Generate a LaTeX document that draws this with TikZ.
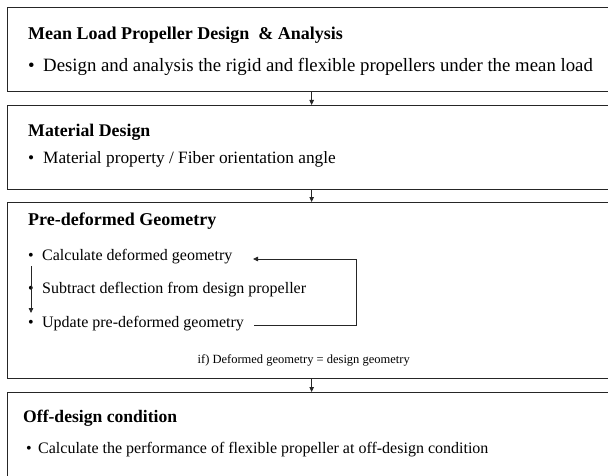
\documentclass[tikz,border=0pt]{standalone}
\usepackage{fontspec}
\setmainfont{Liberation Serif}
\usetikzlibrary{arrows.meta}
% bullet set in a fixed-width slot so the item text starts at a fixed place
\newcommand\itemdot[1]{\makebox[#1][l]{\textbullet}}
\begin{document}
\begin{tikzpicture}[x=1pt,y=-1pt,
  box/.style={draw=black!85, line width=1.3pt, anchor=north west, minimum width=608pt, inner sep=0pt},
  ttl/.style={anchor=base west, inner sep=0pt, font=\bfseries},
  itm/.style={anchor=base west, inner sep=0pt},
  note/.style={anchor=base east, inner sep=0pt, font=\fontsize{12.5}{15}\selectfont},
  link/.style={draw=black!85, line width=0.8pt, -{Triangle[length=5pt,width=4.5pt]}}]
\useasboundingbox (0,0) rectangle (608,476);
\clip (0,0) rectangle (608,476);
\fill[white] (0,0) rectangle (608,476);

% four stage boxes (right and lower edges run off the page)
\node[box, minimum height=84pt]  (b1) at (7,7)   {};
\node[box, minimum height=84pt]  (b2) at (7,105) {};
\node[box, minimum height=176pt] (b3) at (7,202) {};
\node[box, minimum height=120pt] (b4) at (7,392) {};

% stage 1
\node[ttl, font=\fontsize{18}{21}\selectfont\bfseries] (t1) at (28,40) {Mean Load Propeller Design \ \& Analysis};
\node[itm, font=\fontsize{18.8}{22}\selectfont] (i1) at (28,72) {\itemdot{15pt}Design and analysis the rigid and flexible propellers under the mean load};

% stage 2
\node[ttl, font=\fontsize{17.8}{21}\selectfont\bfseries] (t2) at (28,137) {Material Design};
\node[itm, font=\fontsize{17.3}{20}\selectfont] (i2) at (28,164) {\itemdot{15pt}Material property / Fiber orientation angle};

% stage 3
\node[ttl, font=\fontsize{18}{21}\selectfont\bfseries] (t3) at (28,225) {Pre-deformed Geometry};
\node[itm, font=\fontsize{16}{19}\selectfont] (c1) at (28,260) {\itemdot{14pt}Calculate deformed geometry};
\node[itm, font=\fontsize{16}{19}\selectfont] (c2) at (28,293) {\itemdot{14pt}Subtract deflection from design propeller};
\node[itm, font=\fontsize{16}{19}\selectfont] (c3) at (28,327) {\itemdot{14pt}Update pre-deformed geometry};
\node[note] (cond) at (410,363) {if) Deformed geometry = design geometry};

% stage 4
\node[ttl, font=\fontsize{17.6}{21}\selectfont\bfseries] (t4) at (23,422) {Off-design condition};
\node[itm, font=\fontsize{16}{19}\selectfont] (i4) at (26,453) {\itemdot{12pt}Calculate the performance of flexible propeller at off-design condition};

% flow between stages
\draw[link] (b1.south) -- (b2.north);
\draw[link] (b2.south) -- (b3.north);
\draw[link] (b3.south) -- (b4.north);

% iteration loop inside stage 3
\coordinate (la) at (31,266);
\coordinate (lb) at (31,313);
\draw[link] (la) -- (lb);
\coordinate (ra) at (254,325);
\coordinate (rb) at (356,325);
\coordinate (rc) at (356,259);
\coordinate (rd) at (253,259);
\draw[link] (ra) -- (rb) -- (rc) -- (rd);
\end{tikzpicture}
\end{document}
